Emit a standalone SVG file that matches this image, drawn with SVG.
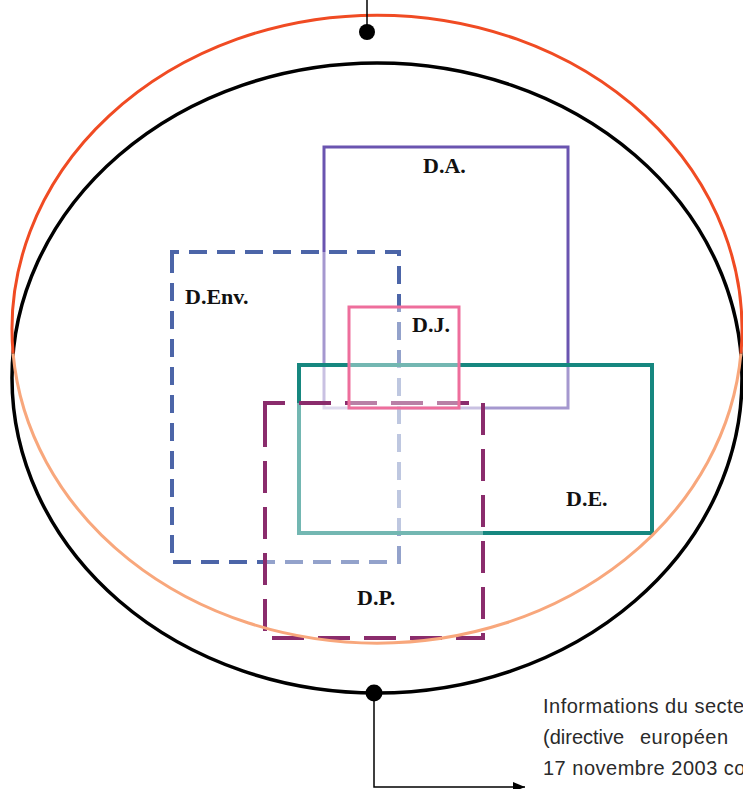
<svg xmlns="http://www.w3.org/2000/svg" width="743" height="789" viewBox="0 0 743 789">
<style>
.lbl{font-family:"Liberation Serif","Times New Roman",serif;font-weight:bold;font-size:22px;fill:#111}
.cap{font-family:"Liberation Sans",Arial,sans-serif;font-size:20px;letter-spacing:0.5px;fill:#2a2a2a}
.veil{fill:#fff;fill-opacity:0.4}
</style>
<defs>
<marker id="arr" viewBox="0 0 12 10" refX="12" refY="5" markerWidth="12" markerHeight="10" markerUnits="userSpaceOnUse" orient="auto">
<path d="M0,0 L12,5 L0,10 Z" fill="#000"/>
</marker>
</defs>
<rect width="743" height="789" fill="#fff"/>
<g id="outer-black">
<ellipse cx="377" cy="378" rx="365" ry="315" fill="none" stroke="#000" stroke-width="3.5"/>
</g>
<g id="DA">
<rect x="324" y="147" width="244" height="261" fill="none" stroke="#6a54b0" stroke-width="3"/>
<text class="lbl" x="423" y="173">D.A.</text>
</g>
<g id="DEnv">
<path d="M172,263 V252 H399 V562 H172 Z" class="veil" stroke="#4c65a8" stroke-width="4" stroke-dasharray="18 10"/>
<text class="lbl" x="185" y="304">D.Env.</text>
</g>
<g id="DE">
<rect x="299" y="365" width="353" height="168" class="veil" stroke="#16877f" stroke-width="4"/>
<text class="lbl" x="566" y="506">D.E.</text>
</g>
<g id="DP">
<path d="M265,415 V403 H483 V638 H265 Z" class="veil" stroke="#8a2c6c" stroke-width="4" stroke-dasharray="32 14"/>
<text class="lbl" x="357" y="605">D.P.</text>
</g>
<g id="DJ">
<rect x="349" y="307" width="110" height="101" class="veil" stroke="#ee6e9c" stroke-width="3"/>
<text class="lbl" x="412" y="332">D.J.</text>
</g>
<g id="outer-red">
<path d="M13.1,353.5 A365,314 0 1 1 740.9,353.5" fill="none" stroke="#f04b23" stroke-width="3"/>
<path d="M740.9,353.5 A365,314 0 0 1 13.1,353.5" fill="none" stroke="#f8a77c" stroke-width="3"/>
</g>
<g id="connectors">
<line x1="367" y1="0" x2="367" y2="32" stroke="#000" stroke-width="1.5"/>
<circle cx="367" cy="32" r="8" fill="#000"/>
<circle cx="374" cy="693" r="8.5" fill="#000"/>
<path d="M374,693 V787 H525" fill="none" stroke="#000" stroke-width="1.5" marker-end="url(#arr)"/>
</g>
<g id="caption">
<text class="cap" x="543" y="713">Informations du secte</text>
<text class="cap" x="543" y="744" style="letter-spacing:0">(directive<tspan x="640" style="letter-spacing:0.5px">européen</tspan></text>
<text class="cap" x="543" y="775">17 novembre 2003 co</text>
</g>
</svg>
